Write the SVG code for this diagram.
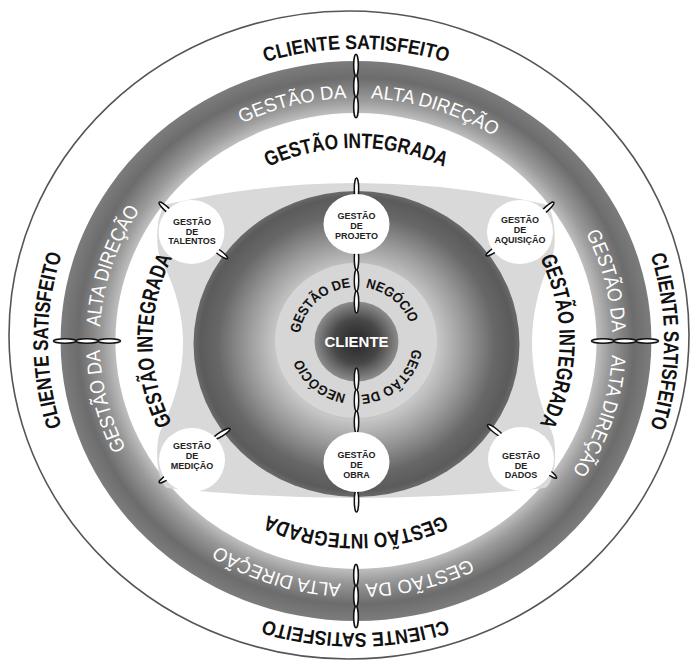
<svg xmlns="http://www.w3.org/2000/svg" width="691" height="664" viewBox="0 0 691 664">
<defs>
  <radialGradient id="gBand" gradientUnits="userSpaceOnUse" cx="0" cy="0" r="280">
    <stop offset="0.81" stop-color="#c2c2c2"/>
    <stop offset="0.86" stop-color="#9a9a9a"/>
    <stop offset="0.94" stop-color="#6c6c6c"/>
    <stop offset="1" stop-color="#7c7c7c"/>
  </radialGradient>
  <radialGradient id="gSphere" cx="0.5" cy="0.5" r="0.5">
    <stop offset="0" stop-color="#d2d2d2"/>
    <stop offset="0.5" stop-color="#c6c6c6"/>
    <stop offset="0.66" stop-color="#9c9c9c"/>
    <stop offset="0.85" stop-color="#676767"/>
    <stop offset="0.96" stop-color="#5b5b5b"/>
    <stop offset="1" stop-color="#6a6a6a"/>
  </radialGradient>
  <radialGradient id="gCore" cx="0.5" cy="0.5" r="0.5">
    <stop offset="0" stop-color="#262626"/>
    <stop offset="0.55" stop-color="#474747"/>
    <stop offset="1" stop-color="#8c8c8c"/>
  </radialGradient>
  <path id="pCS" d="M -292,0 A 292 292 0 1 1 292,0 A 292 292 0 1 1 -292,0 A 292 292 0 1 1 292,0 A 292 292 0 1 1 -292,0"/>
  <path id="pBD" d="M -243,0 A 243 243 0 1 1 243,0 A 243 243 0 1 1 -243,0 A 243 243 0 1 1 243,0 A 243 243 0 1 1 -243,0"/>
  <path id="pGI" d="M -193,0 A 193 193 0 1 1 193,0 A 193 193 0 1 1 -193,0 A 193 193 0 1 1 193,0 A 193 193 0 1 1 -193,0"/>
  <path id="pNG" d="M -54,0 A 54 54 0 1 1 54,0 A 54 54 0 1 1 -54,0 A 54 54 0 1 1 54,0 A 54 54 0 1 1 -54,0"/>
  <style>
    .cs { font-family: 'Liberation Sans Narrow','Liberation Sans',Arial,sans-serif; font-weight: bold; font-size: 20px; fill: #111; }
    .bd { font-family: 'Liberation Sans Narrow','Liberation Sans',Arial,sans-serif; font-size: 19px; fill: #fff; }
    .gi { font-family: 'Liberation Sans Narrow','Liberation Sans',Arial,sans-serif; font-weight: bold; font-size: 21px; fill: #111; }
    .ng { font-family: 'Liberation Sans Narrow','Liberation Sans',Arial,sans-serif; font-weight: bold; font-size: 13.5px; fill: #111; }
    .lbl { font-family: 'Liberation Sans',Arial,sans-serif; font-weight: bold; font-size: 9px; fill: #222; text-anchor: middle; }
    .node { fill: #fff; }
    .lnk { fill: #fff; stroke: #111; stroke-width: 1.5; }
  </style>
</defs>

<rect width="691" height="664" fill="#fff"/>

<g id="outer-circle">
  <ellipse cx="349" cy="335" rx="340" ry="324" fill="none" stroke="#555" stroke-width="1.6"/>
</g>

<g id="band" transform="translate(356,341) scale(1.055,1)">
  <path d="M -280,0 A 280 280 0 1 1 280,0 A 280 280 0 1 1 -280,0 Z M -228,0 A 228 228 0 1 0 228,0 A 228 228 0 1 0 -228,0 Z" fill="url(#gBand)" fill-rule="evenodd"/>
</g>

<g id="gray-region">
  <path d="M 168,204 Q 356,162 544,204 C 556,207 558,250 550,262 Q 514,341 550,428 C 558,440 557,482 545,488 Q 356,508 167,488 C 156,482 154,440 162,428 Q 204,341 162,262 C 154,250 156,207 168,204 Z" fill="#d9d9d9"/>
</g>

<g id="sphere">
  <ellipse cx="356.5" cy="344" rx="163" ry="153" fill="url(#gSphere)"/>
</g>

<g id="negocio-ring">
  <ellipse cx="356" cy="340.5" rx="81" ry="77.5" fill="#d6d6d6"/>
</g>

<g id="cliente">
  <ellipse cx="356.5" cy="341.5" rx="42" ry="40" fill="url(#gCore)"/>
  <text x="356.5" y="347" font-family="'Liberation Sans',Arial,sans-serif" font-weight="bold" font-size="15" fill="#fff" text-anchor="middle">CLIENTE</text>
</g>

<g id="ring-texts" transform="translate(356,341) scale(1.055,1)">
  <text class="cs" text-anchor="middle"><textPath href="#pCS" startOffset="458.67" textLength="175" lengthAdjust="spacingAndGlyphs">CLIENTE SATISFEITO</textPath></text>
  <text class="cs" text-anchor="middle"><textPath href="#pCS" startOffset="917.35" textLength="175" lengthAdjust="spacingAndGlyphs">CLIENTE SATISFEITO</textPath></text>
  <text class="cs" text-anchor="middle"><textPath href="#pCS" startOffset="1376" textLength="175" lengthAdjust="spacingAndGlyphs">CLIENTE SATISFEITO</textPath></text>
  <text class="cs" text-anchor="middle"><textPath href="#pCS" startOffset="1834.69" textLength="175" lengthAdjust="spacingAndGlyphs">CLIENTE SATISFEITO</textPath></text>

  <text class="bd" text-anchor="end"><textPath href="#pBD" startOffset="372.7" textLength="103" lengthAdjust="spacingAndGlyphs">GESTÃO DA</textPath></text>
  <text class="bd" text-anchor="start"><textPath href="#pBD" startOffset="395.7" textLength="124" lengthAdjust="spacingAndGlyphs">ALTA DIREÇÃO</textPath></text>
  <text class="bd" text-anchor="end"><textPath href="#pBD" startOffset="754.4" textLength="103" lengthAdjust="spacingAndGlyphs">GESTÃO DA</textPath></text>
  <text class="bd" text-anchor="start"><textPath href="#pBD" startOffset="777.4" textLength="124" lengthAdjust="spacingAndGlyphs">ALTA DIREÇÃO</textPath></text>
  <text class="bd" text-anchor="end"><textPath href="#pBD" startOffset="1136.1" textLength="103" lengthAdjust="spacingAndGlyphs">GESTÃO DA</textPath></text>
  <text class="bd" text-anchor="start"><textPath href="#pBD" startOffset="1159.1" textLength="124" lengthAdjust="spacingAndGlyphs">ALTA DIREÇÃO</textPath></text>
  <text class="bd" text-anchor="end"><textPath href="#pBD" startOffset="1517.8" textLength="103" lengthAdjust="spacingAndGlyphs">GESTÃO DA</textPath></text>
  <text class="bd" text-anchor="start"><textPath href="#pBD" startOffset="1540.8" textLength="124" lengthAdjust="spacingAndGlyphs">ALTA DIREÇÃO</textPath></text>

  <text class="gi" text-anchor="middle"><textPath href="#pGI" startOffset="303.16" textLength="172" lengthAdjust="spacingAndGlyphs">GESTÃO INTEGRADA</textPath></text>
  <text class="gi" text-anchor="middle"><textPath href="#pGI" startOffset="606.3" textLength="172" lengthAdjust="spacingAndGlyphs">GESTÃO INTEGRADA</textPath></text>
  <text class="gi" text-anchor="middle"><textPath href="#pGI" startOffset="909.5" textLength="172" lengthAdjust="spacingAndGlyphs">GESTÃO INTEGRADA</textPath></text>
  <text class="gi" text-anchor="middle"><textPath href="#pGI" startOffset="1212.65" textLength="172" lengthAdjust="spacingAndGlyphs">GESTÃO INTEGRADA</textPath></text>

  <text class="ng" text-anchor="end"><textPath href="#pNG" startOffset="79.8" textLength="72" lengthAdjust="spacingAndGlyphs">GESTÃO DE</textPath></text>
  <text class="ng" text-anchor="start"><textPath href="#pNG" startOffset="93.8" textLength="57" lengthAdjust="spacingAndGlyphs">NEGÓCIO</textPath></text>
  <text class="ng" text-anchor="end"><textPath href="#pNG" startOffset="249.5" textLength="72" lengthAdjust="spacingAndGlyphs">GESTÃO DE</textPath></text>
  <text class="ng" text-anchor="start"><textPath href="#pNG" startOffset="263.5" textLength="57" lengthAdjust="spacingAndGlyphs">NEGÓCIO</textPath></text>
</g>

<g id="connectors">
  <g transform="translate(356,341) scale(1.055,1)">
    <g><ellipse class="lnk" cx="0" cy="-234" rx="2.2" ry="10.8"/><ellipse class="lnk" cx="0" cy="-255" rx="2.2" ry="10.8"/><ellipse class="lnk" cx="0" cy="-276" rx="2.2" ry="10.8"/></g>
    <g transform="rotate(90)"><ellipse class="lnk" cx="0" cy="-234" rx="2.2" ry="10.8"/><ellipse class="lnk" cx="0" cy="-255" rx="2.2" ry="10.8"/><ellipse class="lnk" cx="0" cy="-276" rx="2.2" ry="10.8"/></g>
    <g transform="rotate(180)"><ellipse class="lnk" cx="0" cy="-234" rx="2.2" ry="10.8"/><ellipse class="lnk" cx="0" cy="-255" rx="2.2" ry="10.8"/><ellipse class="lnk" cx="0" cy="-276" rx="2.2" ry="10.8"/></g>
    <g transform="rotate(270)"><ellipse class="lnk" cx="0" cy="-234" rx="2.2" ry="10.8"/><ellipse class="lnk" cx="0" cy="-255" rx="2.2" ry="10.8"/><ellipse class="lnk" cx="0" cy="-276" rx="2.2" ry="10.8"/></g>
  </g>
  <ellipse class="lnk" cx="356.5" cy="189" rx="2.2" ry="11"/>
  <ellipse class="lnk" cx="356.5" cy="259" rx="2.2" ry="11"/>
  <ellipse class="lnk" cx="356.5" cy="280.5" rx="2.2" ry="11"/>
  <ellipse class="lnk" cx="356.5" cy="302" rx="2.2" ry="11"/>
  <ellipse class="lnk" cx="356.5" cy="379" rx="2.2" ry="11"/>
  <ellipse class="lnk" cx="356.5" cy="400.5" rx="2.2" ry="11"/>
  <ellipse class="lnk" cx="356.5" cy="422" rx="2.2" ry="11"/>
  <ellipse class="lnk" cx="356.5" cy="501" rx="2.2" ry="11"/>
  <ellipse class="lnk" cx="0" cy="0" rx="10" ry="2.2" transform="translate(166.5,209) rotate(43)"/>
  <ellipse class="lnk" cx="0" cy="0" rx="10" ry="2.2" transform="translate(219.5,252.5) rotate(37)"/>
  <ellipse class="lnk" cx="0" cy="0" rx="10" ry="2.2" transform="translate(546.5,209) rotate(-43)"/>
  <ellipse class="lnk" cx="0" cy="0" rx="10" ry="2.2" transform="translate(494.5,250) rotate(-34)"/>
  <ellipse class="lnk" cx="0" cy="0" rx="10" ry="2.2" transform="translate(221.5,434) rotate(-32)"/>
  <ellipse class="lnk" cx="0" cy="0" rx="10" ry="2.2" transform="translate(167.5,477) rotate(-34)"/>
  <ellipse class="lnk" cx="0" cy="0" rx="10" ry="2.2" transform="translate(495.5,431) rotate(38)"/>
  <ellipse class="lnk" cx="0" cy="0" rx="10" ry="2.2" transform="translate(548.5,472) rotate(37)"/>
</g>

<g id="n-projeto">
  <ellipse class="node" cx="356.5" cy="224" rx="33" ry="30"/>
  <text class="lbl" x="356.5" y="219">GESTÃO</text>
  <text class="lbl" x="356.5" y="229">DE</text>
  <text class="lbl" x="356.5" y="239">PROJETO</text>
</g>
<g id="n-obra">
  <ellipse class="node" cx="356.5" cy="462" rx="33" ry="30"/>
  <text class="lbl" x="356.5" y="458">GESTÃO</text>
  <text class="lbl" x="356.5" y="468">DE</text>
  <text class="lbl" x="356.5" y="478">OBRA</text>
</g>
<g id="n-talentos">
  <ellipse class="node" cx="191.5" cy="232" rx="33" ry="32"/>
  <text class="lbl" x="192" y="225">GESTÃO</text>
  <text class="lbl" x="192" y="234.5">DE</text>
  <text class="lbl" x="192" y="244">TALENTOS</text>
</g>
<g id="n-aquisicao">
  <ellipse class="node" cx="520" cy="232" rx="33" ry="32"/>
  <text class="lbl" x="520" y="223">GESTÃO</text>
  <text class="lbl" x="520" y="233">DE</text>
  <text class="lbl" x="520" y="243">AQUISIÇÃO</text>
</g>
<g id="n-medicao">
  <ellipse class="node" cx="192" cy="460" rx="33" ry="32"/>
  <text class="lbl" x="192" y="449">GESTÃO</text>
  <text class="lbl" x="192" y="459">DE</text>
  <text class="lbl" x="192" y="469">MEDIÇÃO</text>
</g>
<g id="n-dados">
  <ellipse class="node" cx="521" cy="459" rx="33" ry="32"/>
  <text class="lbl" x="521" y="459">GESTÃO</text>
  <text class="lbl" x="521" y="468.5">DE</text>
  <text class="lbl" x="521" y="477.5">DADOS</text>
</g>
</svg>
